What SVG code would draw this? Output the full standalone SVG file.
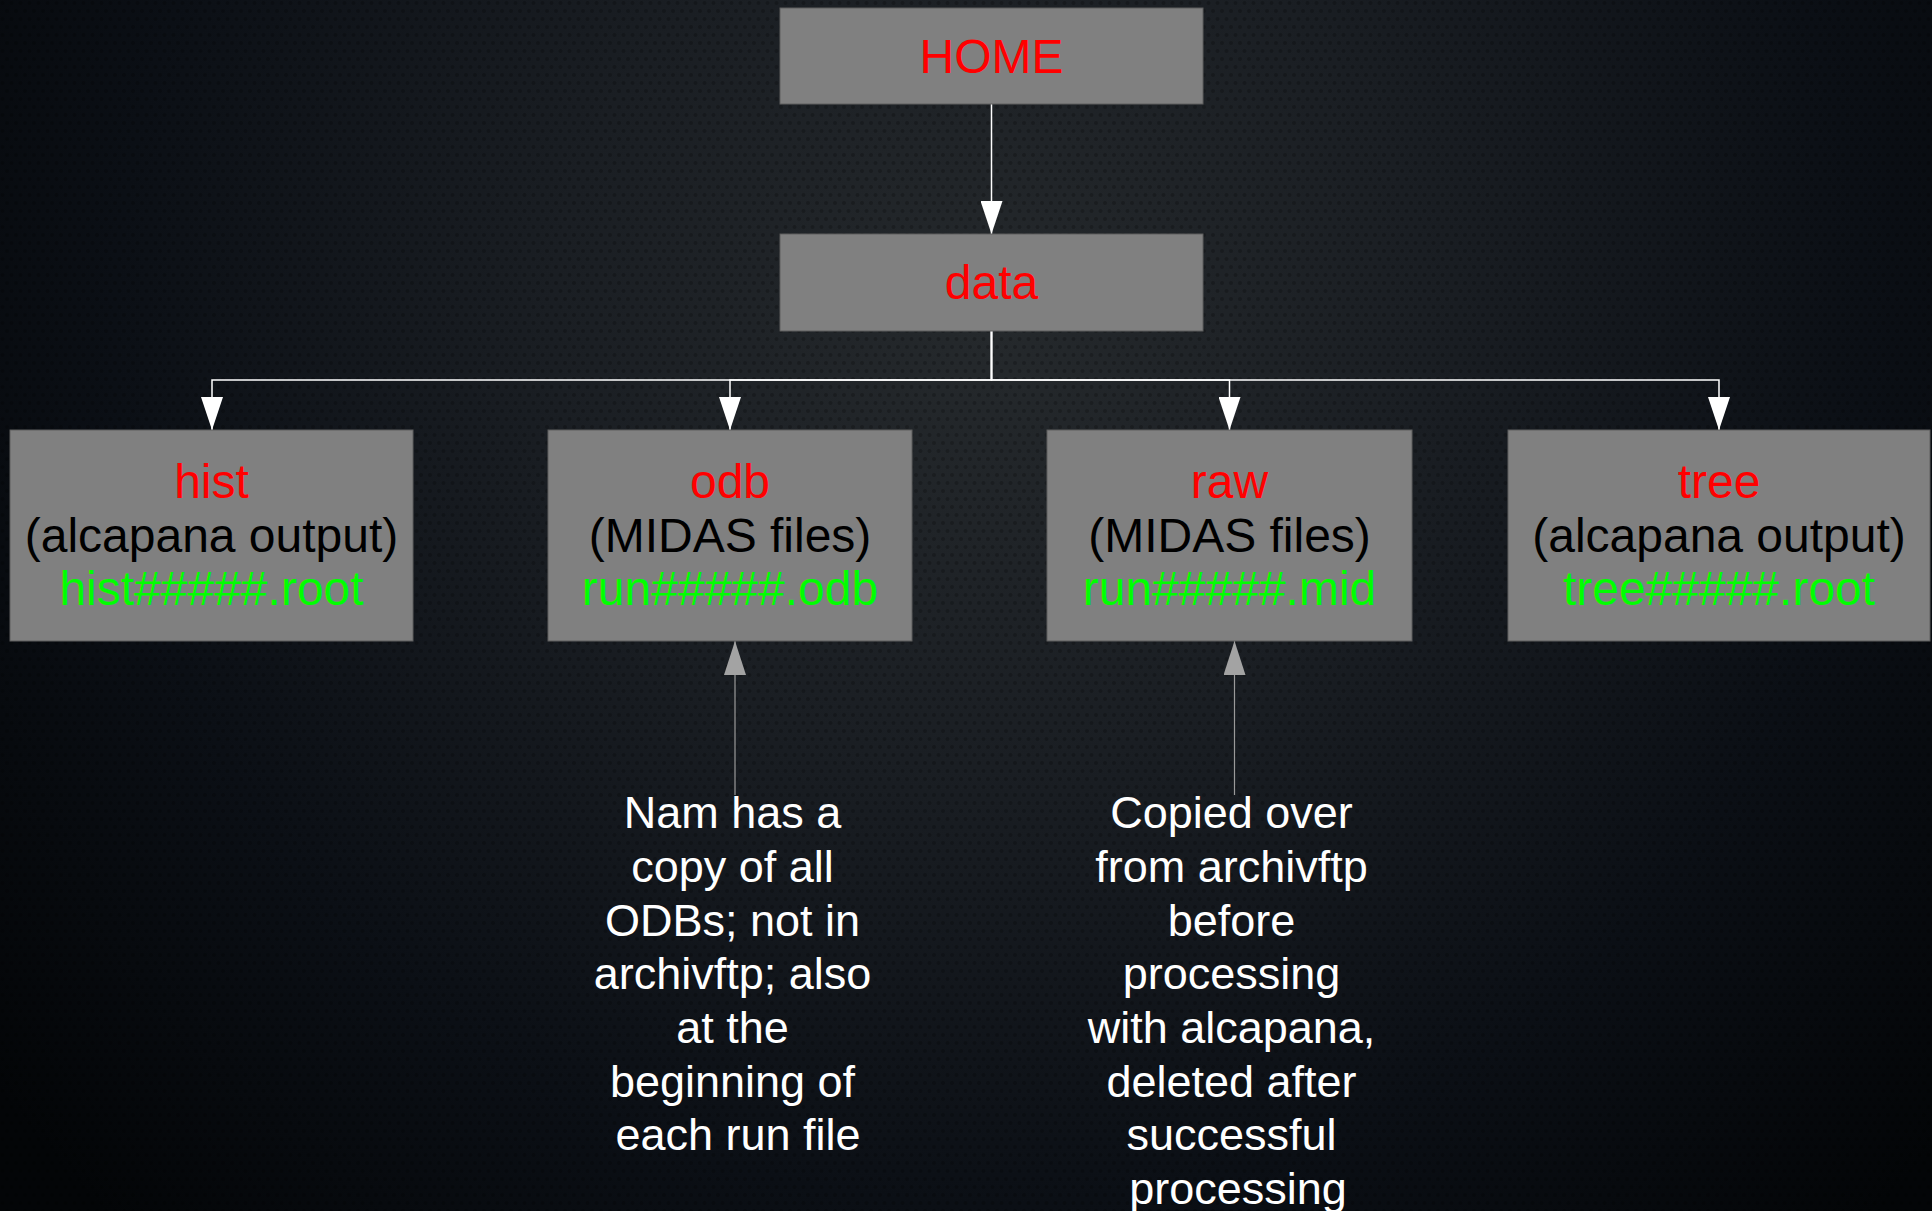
<svg xmlns="http://www.w3.org/2000/svg" width="1932" height="1211" viewBox="0 0 1932 1211">
<defs>
<radialGradient id="bg" gradientUnits="userSpaceOnUse" cx="990" cy="330" r="1250">
<stop offset="0" stop-color="#25292c"/>
<stop offset="0.35" stop-color="#1a1e23"/>
<stop offset="0.7" stop-color="#0b0f15"/>
<stop offset="1" stop-color="#030507"/>
</radialGradient>
<pattern id="hex" width="9" height="16" patternUnits="userSpaceOnUse">
<circle cx="2.5" cy="3" r="2" fill="#000" fill-opacity="0.22"/>
<circle cx="7" cy="11" r="2" fill="#000" fill-opacity="0.22"/>
</pattern>
<marker id="arrW" viewBox="0 0 33 22" refX="33" refY="11" markerWidth="33" markerHeight="22" orient="auto" markerUnits="userSpaceOnUse">
<path d="M0,0 L33,11 L0,22 z" fill="#ffffff"/>
</marker>
<marker id="arrG" viewBox="0 0 34 22" refX="34" refY="11" markerWidth="34" markerHeight="22" orient="auto" markerUnits="userSpaceOnUse">
<path d="M0,0 L34,11 L0,22 z" fill="#a3a3a3"/>
</marker>
</defs>
<style>
.box{fill:#808080;stroke:#5e5e5e;stroke-width:1}
.t{font-family:"Liberation Sans",Arial,sans-serif;font-size:48px;text-anchor:middle}
.r{fill:#ff0000}
.k{fill:#000000}
.g{fill:#00ff00}
.note{font-family:"Liberation Sans",Arial,sans-serif;font-size:45px;text-anchor:middle;fill:#ffffff}
.c{fill:none;stroke:#ffffff;stroke-width:1.5}
.cg{fill:none;stroke:#9a9a9a;stroke-width:1.2}
</style>
<rect x="0" y="0" width="1932" height="1211" fill="url(#bg)"/>
<rect x="0" y="0" width="1932" height="1211" fill="url(#hex)"/>

<g id="connectors">
<path class="c" d="M991.5,104 V234" marker-end="url(#arrW)"/>
<path class="c" d="M991.5,331 V380 H212 V430" marker-end="url(#arrW)"/>
<path class="c" d="M991.5,331 V380 H730 V430" marker-end="url(#arrW)"/>
<path class="c" d="M991.5,331 V380 H1229.5 V430" marker-end="url(#arrW)"/>
<path class="c" d="M991.5,331 V380 H1719 V430" marker-end="url(#arrW)"/>
<path class="cg" d="M735,795 V641" marker-end="url(#arrG)"/>
<path class="cg" d="M1234.5,795 V641" marker-end="url(#arrG)"/>
</g>

<g id="home">
<rect class="box" x="780" y="8" width="423" height="96"/>
<text class="t r" x="991.5" y="73">HOME</text>
</g>
<g id="data">
<rect class="box" x="780" y="234" width="423" height="97"/>
<text class="t r" x="991.5" y="299">data</text>
</g>
<g id="hist">
<rect class="box" x="10" y="430" width="403" height="211"/>
<text class="t r" x="211.5" y="498">hist</text>
<text class="t k" x="211.5" y="552">(alcapana output)</text>
<text class="t g" x="211.5" y="605">hist#####.root</text>
</g>
<g id="odb">
<rect class="box" x="548" y="430" width="364" height="211"/>
<text class="t r" x="730" y="498">odb</text>
<text class="t k" x="730" y="552">(MIDAS files)</text>
<text class="t g" x="730" y="605">run#####.odb</text>
</g>
<g id="raw">
<rect class="box" x="1047" y="430" width="365" height="211"/>
<text class="t r" x="1229.5" y="498">raw</text>
<text class="t k" x="1229.5" y="552">(MIDAS files)</text>
<text class="t g" x="1229.5" y="605">run#####.mid</text>
</g>
<g id="tree">
<rect class="box" x="1508" y="430" width="422" height="211"/>
<text class="t r" x="1719" y="498">tree</text>
<text class="t k" x="1719" y="552">(alcapana output)</text>
<text class="t g" x="1719" y="605">tree#####.root</text>
</g>

<g id="note-odb">
<text class="note" x="732.5" y="828">Nam has a</text>
<text class="note" x="732.5" y="882">copy of all</text>
<text class="note" x="732.5" y="936">ODBs; not in</text>
<text class="note" x="732.5" y="989">archivftp; also</text>
<text class="note" x="732.5" y="1043">at the</text>
<text class="note" x="732.5" y="1097">beginning of</text>
<text class="note" x="738" y="1150">each run file</text>
</g>
<g id="note-raw">
<text class="note" x="1231.5" y="828">Copied over</text>
<text class="note" x="1231.5" y="882">from archivftp</text>
<text class="note" x="1231.5" y="936">before</text>
<text class="note" x="1231.5" y="989">processing</text>
<text class="note" x="1231.5" y="1043">with alcapana,</text>
<text class="note" x="1231.5" y="1097">deleted after</text>
<text class="note" x="1231.5" y="1150">successful</text>
<text class="note" x="1238" y="1204">processing</text>
</g>
</svg>
